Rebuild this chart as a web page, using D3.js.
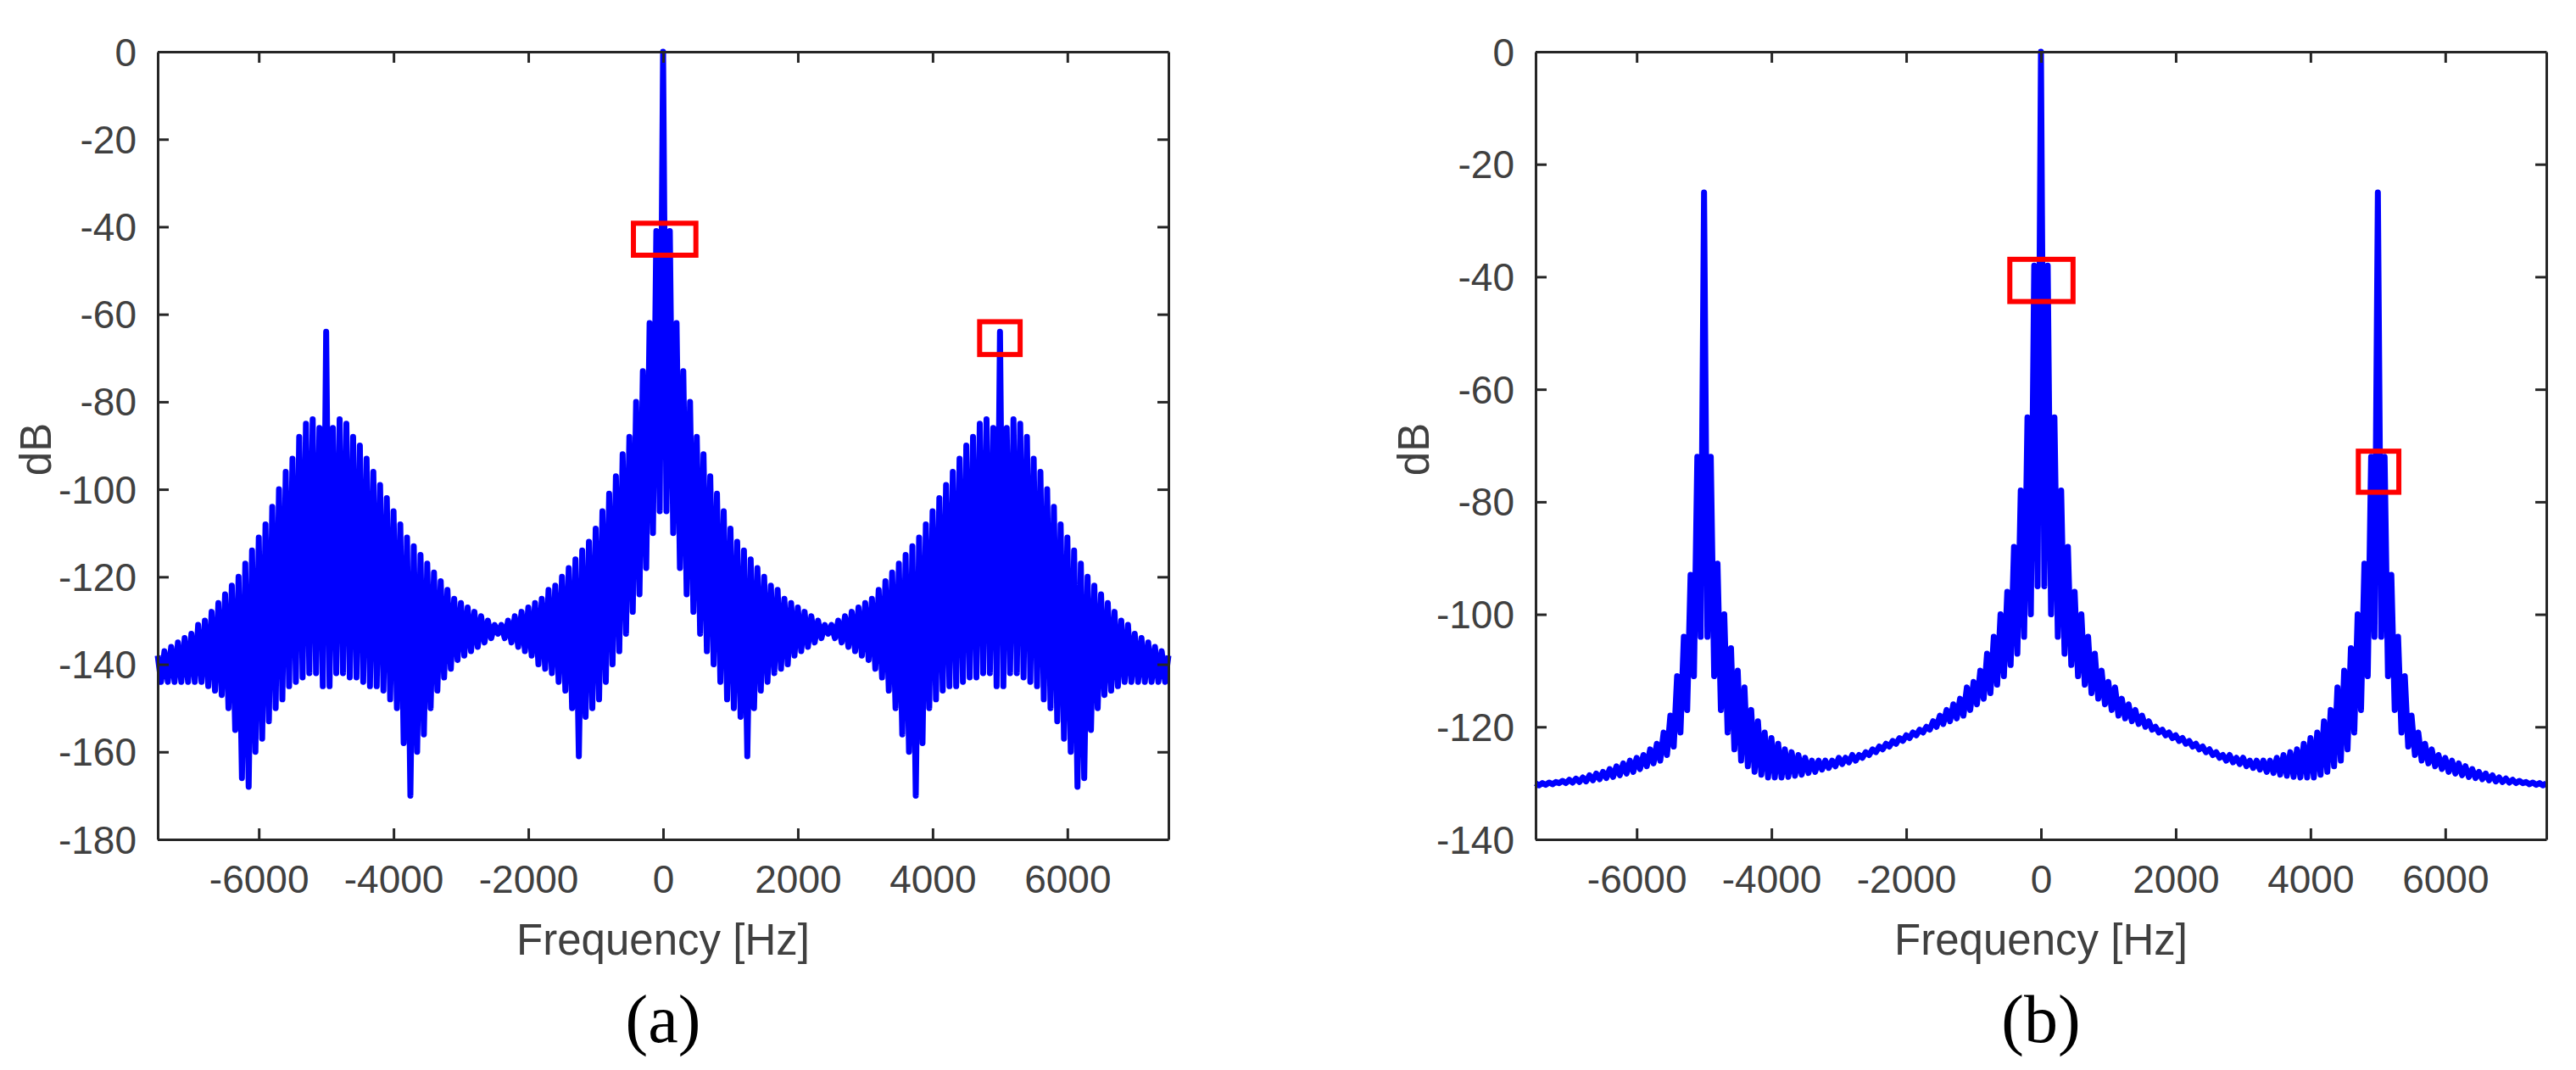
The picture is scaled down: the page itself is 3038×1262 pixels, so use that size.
<!DOCTYPE html>
<html>
<head>
<meta charset="utf-8">
<script src="https://cdn.jsdelivr.net/npm/d3@7"></script>
<style>
  body { margin: 0; background: #fff; }
  svg { display: block; }
  .tick text { font-family: "Liberation Sans", Arial, sans-serif; font-size: 46px; fill: #404040; }
</style>
</head>
<body>
<svg id="chart" width="3038" height="1262"></svg>
<script>
// Spectre (a) : crêtes aux multiples de 100 Hz (0..7500), creux à +50 Hz ; symétrique
const aPeaks = [0, -41, -62, -73, -80, -88, -92, -97, -101, -105, -109, -112, -114, -116, -118, -120,
  -122, -123, -125, -126, -127, -128, -129, -130, -131, -131, -130, -129, -128, -127, -126, -125,
  -123, -121, -119, -117, -115, -113, -111, -108, -105, -102, -99, -96, -93, -90, -88, -85, -84,
  -86, -64, -86, -84, -85, -88, -93, -96, -100, -104, -108, -111, -114, -117, -120, -122, -124,
  -126, -128, -130, -131, -133, -134, -135, -136, -137, -138];
const aDips = [-105, -110, -118, -124, -128, -133, -137, -140, -144, -148, -150, -152, -161, -150,
  -146, -144, -142, -141, -140, -138, -137, -136, -135, -134, -133, -134, -135, -136, -137, -138,
  -139, -141, -143, -146, -150, -156, -160, -170, -158, -150, -148, -146, -145, -145, -144, -143,
  -143, -142, -142, -145, -145, -142, -142, -143, -144, -145, -148, -150, -153, -157, -160, -168,
  -166, -155, -150, -147, -146, -145, -144, -144, -144, -144, -144, -144, -144];

// Spectre (b)
const bPeaks = [0, -38, -65, -78, -88, -96, -100, -104, -107, -110, -112, -113, -115, -116, -117,
  -118, -119, -120, -120.5, -121, -121.5, -122, -122.5, -123, -123.5, -124, -124.5, -125, -125,
  -125.5, -125.5, -126, -126, -126, -126, -125.5, -125, -124.5, -124, -123, -122, -121, -119, -117,
  -113, -110, -106, -100, -91, -72, -25, -72, -93, -104, -111, -118, -121, -123, -124, -125, -125.5,
  -126, -126.5, -127, -127.5, -128, -128.3, -128.6, -129, -129.2, -129.4, -129.6, -129.8, -129.9,
  -130, -130];
const bDips = [-95, -100, -104, -107, -109, -111, -112.5, -114, -115, -116, -117, -118, -118.5, -119,
  -119.5, -120, -120.5, -121, -121.5, -122, -122.5, -123, -123.5, -124, -124.5, -125, -125.5, -126,
  -126.3, -126.6, -127, -127.3, -127.6, -128, -128.2, -128.5, -128.7, -128.9, -129, -129, -129,
  -128.5, -128, -127, -126, -124, -121, -117, -111, -104, -104, -111, -117, -121, -123.5, -125, -126,
  -126.5, -127, -127.5, -128, -128.3, -128.6, -128.9, -129.1, -129.3, -129.5, -129.7, -129.8, -129.9,
  -130, -130, -130.2, -130.3, -130.4];

const xTicks = [-6000, -4000, -2000, 0, 2000, 4000, 6000];
const aYTicks = [0, -20, -40, -60, -80, -100, -120, -140, -160, -180];
const bYTicks = [0, -20, -40, -60, -80, -100, -120, -140];

// Rectangles rouges [f0, f1, dB haut, dB bas]
const aBoxes = [[-440, 487, -39.2, -46.5], [4698, 5299, -61.7, -69.2]];
const bBoxes = [[-462, 476, -36.9, -44.4], [4710, 5311, -71, -78.3]];

// Construire la série complète (crête / creux alternés, miroir pour f < 0)
function buildSeries(peaks, dips) {
  var half = [];
  peaks.forEach(function(v, i) {
    half.push([i * 100, v]);
    if (i < dips.length) half.push([i * 100 + 50, dips[i]]);
  });
  var left = half.slice(1).map(function(d) { return [-d[0], d[1]]; }).reverse();
  return left.concat(half);
}

var svg = d3.select("#chart");
var fmt = function(d) { return String(d); };

function panel(id, left, yMin, yTicks, series, boxes, letter) {
  var top = 61, width = 1192, height = 929;
  var x = d3.scaleLinear().domain([-7500, 7500]).range([0, width]);
  var y = d3.scaleLinear().domain([yMin, 0]).range([height, 0]);
  var g = svg.append("g").attr("transform", "translate(" + left + "," + top + ")");

  g.append("clipPath").attr("id", id).append("rect").attr("x", -4).attr("y", -4)
    .attr("width", width + 8).attr("height", height + 8);

  g.append("path")
    .datum(series)
    .attr("clip-path", "url(#" + id + ")")
    .attr("fill", "none")
    .attr("stroke", "#0000ff")
    .attr("stroke-width", 7)
    .attr("stroke-linejoin", "round")
    .attr("d", d3.line().x(function(d) { return x(d[0]); }).y(function(d) { return y(d[1]); }));

  g.selectAll(".box").data(boxes).enter().append("rect")
    .attr("x", function(d) { return x(d[0]); })
    .attr("y", function(d) { return y(d[2]); })
    .attr("width", function(d) { return x(d[1]) - x(d[0]); })
    .attr("height", function(d) { return y(d[3]) - y(d[2]); })
    .attr("fill", "none").attr("stroke", "#ff0000").attr("stroke-width", 6);

  // axes façon MATLAB : boîte + ticks internes
  var xb = g.append("g").attr("transform", "translate(0," + height + ")")
    .call(d3.axisBottom(x).tickValues(xTicks).tickFormat(fmt).tickSizeInner(-13).tickSizeOuter(0).tickPadding(30));
  var xt = g.append("g").call(d3.axisTop(x).tickValues(xTicks).tickSizeInner(-13).tickSizeOuter(0).tickFormat(""));
  var yl = g.append("g").call(d3.axisLeft(y).tickValues(yTicks).tickFormat(fmt).tickSizeInner(-13).tickSizeOuter(0).tickPadding(25));
  var yr = g.append("g").attr("transform", "translate(" + width + ",0)")
    .call(d3.axisRight(y).tickValues(yTicks).tickSizeInner(-13).tickSizeOuter(0).tickFormat(""));
  [xb, xt, yl, yr].forEach(function(a) {
    a.select(".domain").attr("stroke", "#262626").attr("stroke-width", 3);
    a.selectAll(".tick line").attr("stroke", "#262626").attr("stroke-width", 3);
  });
  xb.selectAll(".tick text").attr("dy", "0.71em");
  yl.selectAll(".tick text").attr("dy", "0.35em");

  g.append("text").attr("x", width / 2).attr("y", 1065)
    .attr("text-anchor", "middle")
    .style("font-family", "Liberation Sans, Arial, sans-serif").style("font-size", "51px").style("fill", "#404040")
    .text("Frequency [Hz]");
  g.append("text").attr("x", width / 2).attr("y", 1168)
    .attr("text-anchor", "middle")
    .style("font-family", "Liberation Serif, Times New Roman, serif").style("font-size", "80px").style("fill", "#000")
    .text(letter);
}

panel("clipA", 186, -180, aYTicks, buildSeries(aPeaks, aDips), aBoxes, "(a)");
panel("clipB", 1811, -140, bYTicks, buildSeries(bPeaks, bDips), bBoxes, "(b)");

// étiquettes dB
[[60, 530], [1685, 530]].forEach(function(p) {
  svg.append("text").attr("transform", "translate(" + p[0] + "," + p[1] + ") rotate(-90)")
    .attr("text-anchor", "middle")
    .style("font-family", "Liberation Sans, Arial, sans-serif").style("font-size", "51px").style("fill", "#404040")
    .text("dB");
});
</script>
</body>
</html>
